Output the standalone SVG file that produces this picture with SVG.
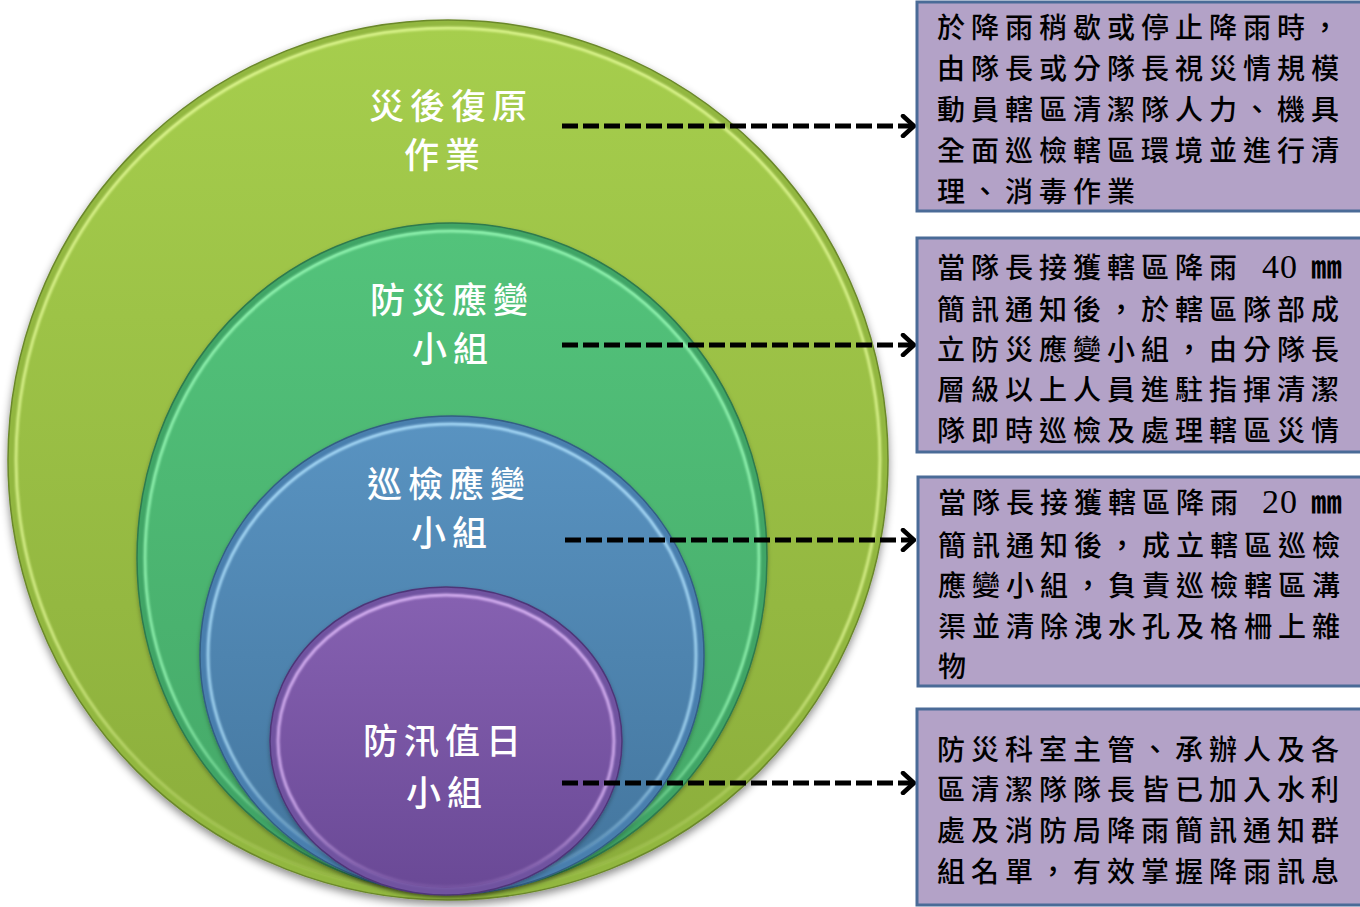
<svg xmlns="http://www.w3.org/2000/svg" width="1360" height="907" viewBox="0 0 1360 907">
<defs>
  <linearGradient id="gOuter" x1="0" y1="0" x2="0" y2="1"><stop offset="0" stop-color="#A6CE4D"/><stop offset="1" stop-color="#8BAD3B"/></linearGradient>
  <linearGradient id="gTeal" x1="0" y1="0" x2="0" y2="1"><stop offset="0" stop-color="#53C37B"/><stop offset="1" stop-color="#44A767"/></linearGradient>
  <linearGradient id="gBlue" x1="0" y1="0" x2="0" y2="1"><stop offset="0" stop-color="#5993C1"/><stop offset="1" stop-color="#43759D"/></linearGradient>
  <linearGradient id="gPurple" x1="0" y1="0" x2="0" y2="1"><stop offset="0" stop-color="#8661B1"/><stop offset="1" stop-color="#6A4996"/></linearGradient>
  <linearGradient id="hOuter" x1="0" y1="0" x2="0" y2="1"><stop offset="0" stop-color="#E4FA98" stop-opacity="0.85"/><stop offset="0.7" stop-color="#E4FA98" stop-opacity="0.75"/><stop offset="1" stop-color="#E4FA98" stop-opacity="0.1"/></linearGradient>
  <linearGradient id="hTeal" x1="0" y1="0" x2="0" y2="1"><stop offset="0" stop-color="#96F7B4" stop-opacity="0.9"/><stop offset="0.7" stop-color="#96F7B4" stop-opacity="0.8"/><stop offset="1" stop-color="#96F7B4" stop-opacity="0.1"/></linearGradient>
  <linearGradient id="hBlue" x1="0" y1="0" x2="0" y2="1"><stop offset="0" stop-color="#AEE0FC" stop-opacity="0.9"/><stop offset="0.7" stop-color="#AEE0FC" stop-opacity="0.8"/><stop offset="1" stop-color="#AEE0FC" stop-opacity="0.1"/></linearGradient>
  <linearGradient id="hPurple" x1="0" y1="0" x2="0" y2="1"><stop offset="0" stop-color="#DDB8F8" stop-opacity="0.9"/><stop offset="0.7" stop-color="#DDB8F8" stop-opacity="0.8"/><stop offset="1" stop-color="#DDB8F8" stop-opacity="0.1"/></linearGradient>
  <filter id="shadow" x="-10%" y="-10%" width="120%" height="125%"><feDropShadow dx="0" dy="4" stdDeviation="4" flood-color="#000" flood-opacity="0.45"/></filter>
  <filter id="shadowS" x="-10%" y="-10%" width="120%" height="125%"><feDropShadow dx="0" dy="2" stdDeviation="2" flood-color="#000" flood-opacity="0.3"/></filter>
  <filter id="soft" x="-5%" y="-5%" width="110%" height="110%"><feGaussianBlur stdDeviation="0.9"/></filter>
  <marker id="chev" viewBox="0 0 16 24" refX="14" refY="12" markerWidth="16" markerHeight="24" markerUnits="userSpaceOnUse" orient="auto">
    <path d="M3,2 L14,12 L3,22" fill="none" stroke="#000" stroke-width="4.5" stroke-linecap="round" stroke-linejoin="miter"/>
  </marker>
  <style>
    .lbl{font-family:"Noto Sans CJK TC","Noto Sans CJK SC",sans-serif;font-size:35px;font-weight:500;letter-spacing:6px;fill:#FFFFFF;}
    .txt{font-family:"Noto Sans CJK TC","Noto Sans CJK SC",sans-serif;font-size:28px;font-weight:500;letter-spacing:6px;fill:#000000;}
    .num{font-family:"Liberation Serif",serif;font-size:34px;font-weight:normal;letter-spacing:1px;}
    .mm{font-size:31px;font-weight:700;}
    .box{fill:#B3A2C7;stroke:#4A6B97;stroke-width:3;}
    .hl{fill:none;stroke-width:3;}
    .dash{fill:none;stroke:#000;stroke-width:5;stroke-dasharray:16 5;}
  </style>
</defs>
<rect width="1360" height="907" fill="#FFFFFF"/>

<g id="ring-outer">
  <ellipse cx="448" cy="460" rx="440" ry="440" fill="#92B73F" stroke="#6B882B" stroke-width="1.5" filter="url(#shadow)"/>
  <ellipse cx="448" cy="460" rx="433" ry="433" fill="url(#gOuter)"/>
  <ellipse cx="448" cy="460" rx="432" ry="432" class="hl" stroke="url(#hOuter)" filter="url(#soft)"/>
  <text class="lbl" x="369" y="119">災後復原</text>
  <text class="lbl" x="404" y="168">作業</text>
</g>

<g id="ring-teal">
  <ellipse cx="452" cy="558" rx="315" ry="335" fill="#3FA566" stroke="#2E7A4E" stroke-width="1.5" filter="url(#shadowS)"/>
  <ellipse cx="452" cy="558" rx="308" ry="328" fill="url(#gTeal)"/>
  <ellipse cx="452" cy="558" rx="307" ry="327" class="hl" stroke="url(#hTeal)" filter="url(#soft)"/>
  <text class="lbl" x="370" y="313">防災應變</text>
  <text class="lbl" x="412" y="362">小組</text>
</g>

<g id="ring-blue">
  <ellipse cx="452" cy="655" rx="252" ry="239" fill="#4A7FAE" stroke="#335E84" stroke-width="1.5" filter="url(#shadowS)"/>
  <ellipse cx="452" cy="655" rx="245" ry="232" fill="url(#gBlue)"/>
  <ellipse cx="452" cy="655" rx="244" ry="231" class="hl" stroke="url(#hBlue)" filter="url(#soft)"/>
  <text class="lbl" x="367" y="497">巡檢應變</text>
  <text class="lbl" x="411" y="546">小組</text>
</g>

<g id="ring-purple">
  <ellipse cx="446" cy="741" rx="176" ry="154" fill="#7052A0" stroke="#4E3678" stroke-width="1.5" filter="url(#shadowS)"/>
  <ellipse cx="446" cy="741" rx="169" ry="147" fill="url(#gPurple)"/>
  <ellipse cx="446" cy="741" rx="168" ry="146" class="hl" stroke="url(#hPurple)" filter="url(#soft)"/>
  <text class="lbl" x="363" y="754">防汛值日</text>
  <text class="lbl" x="406" y="806">小組</text>
</g>

<g id="connectors">
  <line class="dash" x1="562" y1="126" x2="914" y2="126" marker-end="url(#chev)"/>
  <line class="dash" x1="562" y1="345" x2="914" y2="345" marker-end="url(#chev)"/>
  <line class="dash" x1="565" y1="540" x2="914" y2="540" marker-end="url(#chev)"/>
  <line class="dash" x1="562" y1="783" x2="914" y2="783" marker-end="url(#chev)"/>
</g>

<g id="box-1">
  <rect class="box" x="917" y="2" width="460" height="209"/>
  <text class="txt" x="937" y="38">於降雨稍歇或停止降雨時，</text>
  <text class="txt" x="937" y="79">由隊長或分隊長視災情規模</text>
  <text class="txt" x="937" y="120">動員轄區清潔隊人力、機具</text>
  <text class="txt" x="937" y="161">全面巡檢轄區環境並進行清</text>
  <text class="txt" x="937" y="202">理、消毒作業</text>
</g>

<g id="box-2">
  <rect class="box" x="917" y="238" width="460" height="214"/>
  <text class="txt" x="937" y="278">當隊長接獲轄區降雨<tspan class="num" x="1262">40</tspan><tspan class="mm" x="1311">㎜</tspan></text>
  <text class="txt" x="937" y="320">簡訊通知後，於轄區隊部成</text>
  <text class="txt" x="937" y="360">立防災應變小組，由分隊長</text>
  <text class="txt" x="937" y="400">層級以上人員進駐指揮清潔</text>
  <text class="txt" x="937" y="441">隊即時巡檢及處理轄區災情</text>
</g>

<g id="box-3">
  <rect class="box" x="918" y="477" width="460" height="209"/>
  <text class="txt" x="938" y="513">當隊長接獲轄區降雨<tspan class="num" x="1262">20</tspan><tspan class="mm" x="1311">㎜</tspan></text>
  <text class="txt" x="938" y="556">簡訊通知後，成立轄區巡檢</text>
  <text class="txt" x="938" y="596">應變小組，負責巡檢轄區溝</text>
  <text class="txt" x="938" y="637">渠並清除洩水孔及格柵上雜</text>
  <text class="txt" x="938" y="677">物</text>
</g>

<g id="box-4">
  <rect class="box" x="917" y="709" width="460" height="196"/>
  <text class="txt" x="937" y="760">防災科室主管、承辦人及各</text>
  <text class="txt" x="937" y="800">區清潔隊隊長皆已加入水利</text>
  <text class="txt" x="937" y="841">處及消防局降雨簡訊通知群</text>
  <text class="txt" x="937" y="882">組名單，有效掌握降雨訊息</text>
</g>
</svg>
